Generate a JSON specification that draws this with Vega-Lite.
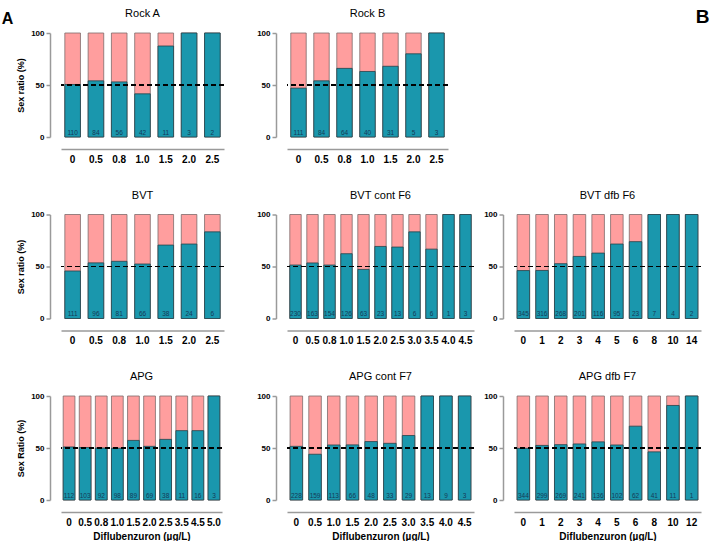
{
  "$schema": "https://vega.github.io/schema/vega-lite/v6.json",
  "background": "white",
  "padding": {"left": 1, "top": 8, "right": 4, "bottom": 0},
  "config": {
    "font": "Liberation Sans",
    "view": {"stroke": null},
    "title": {"fontSize": 11, "fontWeight": "normal", "offset": 10, "anchor": "middle", "color": "black"},
    "scale": {"bandPaddingInner": 0.33},
    "axisY": {"domainColor": "#9a9a9a", "domainWidth": 1.5, "tickColor": "#9a9a9a", "tickWidth": 1.5, "tickSize": 4, "labelFontSize": 8, "labelFontWeight": "bold", "labelColor": "black", "labelPadding": 2, "offset": 11, "values": [0, 25, 50, 75, 100], "grid": false, "titleFontSize": 9, "titleFontWeight": "bold", "titleColor": "black", "titlePadding": 5},
    "axisX": {"domainColor": "#9a9a9a", "domainWidth": 1.5, "ticks": false, "labelFontSize": 10, "labelFontWeight": "bold", "labelColor": "black", "labelAngle": 0, "labelPadding": 5, "offset": 12, "titleFontSize": 10, "titleFontWeight": "bold", "titleColor": "black", "titlePadding": 4}
  },
  "data": {"values": [
    {"p": "Rock A", "d": "0", "m": 50.5, "n": 110},
    {"p": "Rock A", "d": "0.5", "m": 54, "n": 84},
    {"p": "Rock A", "d": "0.8", "m": 53, "n": 56},
    {"p": "Rock A", "d": "1.0", "m": 41.5, "n": 42},
    {"p": "Rock A", "d": "1.5", "m": 87.5, "n": 11},
    {"p": "Rock A", "d": "2.0", "m": 100, "n": 3},
    {"p": "Rock A", "d": "2.5", "m": 100, "n": 2},
    {"p": "Rock B", "d": "0", "m": 47, "n": 111},
    {"p": "Rock B", "d": "0.5", "m": 54, "n": 84},
    {"p": "Rock B", "d": "0.8", "m": 66, "n": 64},
    {"p": "Rock B", "d": "1.0", "m": 63, "n": 40},
    {"p": "Rock B", "d": "1.5", "m": 68, "n": 31},
    {"p": "Rock B", "d": "2.0", "m": 80, "n": 5},
    {"p": "Rock B", "d": "2.5", "m": 100, "n": 3},
    {"p": "BVT", "d": "0", "m": 45.7, "n": 111},
    {"p": "BVT", "d": "0.5", "m": 53.5, "n": 96},
    {"p": "BVT", "d": "0.8", "m": 55, "n": 81},
    {"p": "BVT", "d": "1.0", "m": 52.4, "n": 66},
    {"p": "BVT", "d": "1.5", "m": 70.6, "n": 38},
    {"p": "BVT", "d": "2.0", "m": 71.6, "n": 24},
    {"p": "BVT", "d": "2.5", "m": 83.3, "n": 6},
    {"p": "BVT cont F6", "d": "0", "m": 51.4, "n": 230},
    {"p": "BVT cont F6", "d": "0.5", "m": 53.4, "n": 163},
    {"p": "BVT cont F6", "d": "0.8", "m": 51.4, "n": 154},
    {"p": "BVT cont F6", "d": "1.0", "m": 62.3, "n": 126},
    {"p": "BVT cont F6", "d": "1.5", "m": 47.2, "n": 63},
    {"p": "BVT cont F6", "d": "2.0", "m": 69.3, "n": 23},
    {"p": "BVT cont F6", "d": "2.5", "m": 68.7, "n": 13},
    {"p": "BVT cont F6", "d": "3.0", "m": 83.3, "n": 6},
    {"p": "BVT cont F6", "d": "3.5", "m": 66.7, "n": 6},
    {"p": "BVT cont F6", "d": "4.0", "m": 100, "n": 1},
    {"p": "BVT cont F6", "d": "4.5", "m": 100, "n": 3},
    {"p": "BVT dfb F6", "d": "0", "m": 46.1, "n": 345},
    {"p": "BVT dfb F6", "d": "1", "m": 46.2, "n": 316},
    {"p": "BVT dfb F6", "d": "2", "m": 52.7, "n": 268},
    {"p": "BVT dfb F6", "d": "3", "m": 59.7, "n": 201},
    {"p": "BVT dfb F6", "d": "4", "m": 62.9, "n": 116},
    {"p": "BVT dfb F6", "d": "5", "m": 71.6, "n": 95},
    {"p": "BVT dfb F6", "d": "6", "m": 73.9, "n": 23},
    {"p": "BVT dfb F6", "d": "8", "m": 100, "n": 7},
    {"p": "BVT dfb F6", "d": "10", "m": 100, "n": 4},
    {"p": "BVT dfb F6", "d": "14", "m": 100, "n": 2},
    {"p": "APG", "d": "0", "m": 51, "n": 112},
    {"p": "APG", "d": "0.5", "m": 50.5, "n": 103},
    {"p": "APG", "d": "0.8", "m": 50, "n": 92},
    {"p": "APG", "d": "1.0", "m": 49.8, "n": 98},
    {"p": "APG", "d": "1.5", "m": 57.3, "n": 89},
    {"p": "APG", "d": "2.0", "m": 51.6, "n": 69},
    {"p": "APG", "d": "2.5", "m": 58.3, "n": 38},
    {"p": "APG", "d": "3.5", "m": 66.7, "n": 11},
    {"p": "APG", "d": "4.5", "m": 66.7, "n": 16},
    {"p": "APG", "d": "5.0", "m": 100, "n": 3},
    {"p": "APG cont F7", "d": "0", "m": 51.6, "n": 228},
    {"p": "APG cont F7", "d": "0.5", "m": 44, "n": 159},
    {"p": "APG cont F7", "d": "1.0", "m": 52.9, "n": 113},
    {"p": "APG cont F7", "d": "1.5", "m": 53, "n": 66},
    {"p": "APG cont F7", "d": "2.0", "m": 56.2, "n": 48},
    {"p": "APG cont F7", "d": "2.5", "m": 54.5, "n": 33},
    {"p": "APG cont F7", "d": "3.0", "m": 62, "n": 29},
    {"p": "APG cont F7", "d": "3.5", "m": 100, "n": 13},
    {"p": "APG cont F7", "d": "4.0", "m": 100, "n": 9},
    {"p": "APG cont F7", "d": "4.5", "m": 100, "n": 3},
    {"p": "APG dfb F7", "d": "0", "m": 49.7, "n": 344},
    {"p": "APG dfb F7", "d": "1", "m": 52.5, "n": 299},
    {"p": "APG dfb F7", "d": "2", "m": 53.2, "n": 269},
    {"p": "APG dfb F7", "d": "3", "m": 53.9, "n": 241},
    {"p": "APG dfb F7", "d": "4", "m": 55.9, "n": 136},
    {"p": "APG dfb F7", "d": "5", "m": 52.9, "n": 102},
    {"p": "APG dfb F7", "d": "6", "m": 71, "n": 62},
    {"p": "APG dfb F7", "d": "8", "m": 46.3, "n": 41},
    {"p": "APG dfb F7", "d": "10", "m": 90.9, "n": 11},
    {"p": "APG dfb F7", "d": "12", "m": 100, "n": 1}
  ]},
  "spacing": 31,
  "hconcat": [
    {
      "title": {"text": "A", "anchor": "start", "offset": -32, "fontSize": 16, "fontWeight": "bold", "dx": -15, "baseline": "alphabetic"},
      "spacing": 25.5,
      "vconcat": [
        {
          "width": 163, "height": 104, "title": "Rock A",
          "transform": [{"filter": {"field": "p", "equal": "Rock A"}}],
          "layer": [
            {"mark": {"type": "bar", "fill": "#ff9e9e", "stroke": "#7d6b6b", "strokeWidth": 0.8}, "encoding": {"x": {"field": "d", "type": "ordinal", "sort": null, "title": null}, "y": {"datum": 100, "type": "quantitative", "scale": {"domain": [0, 100]}, "title": "Sex ratio (%)"}}},
            {"mark": {"type": "bar", "fill": "#1a97ad", "stroke": "#24434a", "strokeWidth": 0.8}, "encoding": {"x": {"field": "d", "type": "ordinal", "sort": null, "title": null}, "y": {"field": "m", "type": "quantitative", "title": "Sex ratio (%)"}}},
            {"mark": {"type": "rule", "color": "black", "strokeWidth": 1.1, "strokeDash": [5, 3]}, "encoding": {"y": {"datum": 50}}},
            {"mark": {"type": "text", "baseline": "bottom", "dy": -1.5, "fontSize": 6.5, "color": "#153a57"}, "encoding": {"x": {"field": "d", "type": "ordinal", "sort": null, "title": null}, "y": {"datum": 0}, "text": {"field": "n"}}}
          ]
        },
        {
          "width": 163, "height": 104, "title": "BVT",
          "transform": [{"filter": {"field": "p", "equal": "BVT"}}],
          "layer": [
            {"mark": {"type": "bar", "fill": "#ff9e9e", "stroke": "#7d6b6b", "strokeWidth": 0.8}, "encoding": {"x": {"field": "d", "type": "ordinal", "sort": null, "title": null}, "y": {"datum": 100, "type": "quantitative", "scale": {"domain": [0, 100]}, "title": "Sex ratio (%)"}}},
            {"mark": {"type": "bar", "fill": "#1a97ad", "stroke": "#24434a", "strokeWidth": 0.8}, "encoding": {"x": {"field": "d", "type": "ordinal", "sort": null, "title": null}, "y": {"field": "m", "type": "quantitative", "title": "Sex ratio (%)"}}},
            {"mark": {"type": "rule", "color": "black", "strokeWidth": 1.1, "strokeDash": [5, 3]}, "encoding": {"y": {"datum": 50}}},
            {"mark": {"type": "text", "baseline": "bottom", "dy": -1.5, "fontSize": 6.5, "color": "#153a57"}, "encoding": {"x": {"field": "d", "type": "ordinal", "sort": null, "title": null}, "y": {"datum": 0}, "text": {"field": "n"}}}
          ]
        },
        {
          "width": 161, "height": 104, "title": "APG",
          "transform": [{"filter": {"field": "p", "equal": "APG"}}],
          "layer": [
            {"mark": {"type": "bar", "fill": "#ff9e9e", "stroke": "#7d6b6b", "strokeWidth": 0.8}, "encoding": {"x": {"field": "d", "type": "ordinal", "sort": null, "scale": {"paddingInner": 0.27}, "title": "Diflubenzuron  (µg/L)"}, "y": {"datum": 100, "type": "quantitative", "scale": {"domain": [0, 100]}, "title": "Sex  Ratio  (%)"}}},
            {"mark": {"type": "bar", "fill": "#1a97ad", "stroke": "#24434a", "strokeWidth": 0.8}, "encoding": {"x": {"field": "d", "type": "ordinal", "sort": null, "title": "Diflubenzuron  (µg/L)"}, "y": {"field": "m", "type": "quantitative", "title": "Sex  Ratio  (%)"}}},
            {"mark": {"type": "rule", "color": "black", "strokeWidth": 1.1, "strokeDash": [5, 3]}, "encoding": {"y": {"datum": 50}}},
            {"mark": {"type": "text", "baseline": "bottom", "dy": -1.5, "fontSize": 6.5, "color": "#153a57"}, "encoding": {"x": {"field": "d", "type": "ordinal", "sort": null, "title": "Diflubenzuron  (µg/L)"}, "y": {"datum": 0}, "text": {"field": "n"}}}
          ]
        }
      ]
    },
    {
      "title": {"text": "B", "anchor": "end", "offset": -34, "fontSize": 19, "fontWeight": "bold", "dx": 8, "baseline": "alphabetic"},
      "spacing": 25.5,
      "vconcat": [
        {
          "width": 161, "height": 104, "title": "Rock B",
          "transform": [{"filter": {"field": "p", "equal": "Rock B"}}],
          "layer": [
            {"mark": {"type": "bar", "fill": "#ff9e9e", "stroke": "#7d6b6b", "strokeWidth": 0.8}, "encoding": {"x": {"field": "d", "type": "ordinal", "sort": null, "title": null}, "y": {"datum": 100, "type": "quantitative", "scale": {"domain": [0, 100]}, "title": null}}},
            {"mark": {"type": "bar", "fill": "#1a97ad", "stroke": "#24434a", "strokeWidth": 0.8}, "encoding": {"x": {"field": "d", "type": "ordinal", "sort": null, "title": null}, "y": {"field": "m", "type": "quantitative", "title": null}}},
            {"mark": {"type": "rule", "color": "black", "strokeWidth": 1.1, "strokeDash": [5, 3]}, "encoding": {"y": {"datum": 50}}},
            {"mark": {"type": "text", "baseline": "bottom", "dy": -1.5, "fontSize": 6.5, "color": "#153a57"}, "encoding": {"x": {"field": "d", "type": "ordinal", "sort": null, "title": null}, "y": {"datum": 0}, "text": {"field": "n"}}}
          ]
        },
        {
          "spacing": 8,
          "hconcat": [
            {
              "width": 187, "height": 104, "title": "BVT cont F6",
              "transform": [{"filter": {"field": "p", "equal": "BVT cont F6"}}],
              "layer": [
                {"mark": {"type": "bar", "fill": "#ff9e9e", "stroke": "#7d6b6b", "strokeWidth": 0.8}, "encoding": {"x": {"field": "d", "type": "ordinal", "sort": null, "title": null}, "y": {"datum": 100, "type": "quantitative", "scale": {"domain": [0, 100]}, "title": null}}},
                {"mark": {"type": "bar", "fill": "#1a97ad", "stroke": "#24434a", "strokeWidth": 0.8}, "encoding": {"x": {"field": "d", "type": "ordinal", "sort": null, "title": null}, "y": {"field": "m", "type": "quantitative", "title": null}}},
                {"mark": {"type": "rule", "color": "black", "strokeWidth": 1.1, "strokeDash": [5, 3]}, "encoding": {"y": {"datum": 50}}},
                {"mark": {"type": "text", "baseline": "bottom", "dy": -1.5, "fontSize": 6.5, "color": "#153a57"}, "encoding": {"x": {"field": "d", "type": "ordinal", "sort": null, "title": null}, "y": {"datum": 0}, "text": {"field": "n"}}}
              ]
            },
            {
              "width": 187, "height": 104, "title": "BVT dfb F6",
              "transform": [{"filter": {"field": "p", "equal": "BVT dfb F6"}}],
              "layer": [
                {"mark": {"type": "bar", "fill": "#ff9e9e", "stroke": "#7d6b6b", "strokeWidth": 0.8}, "encoding": {"x": {"field": "d", "type": "ordinal", "sort": null, "title": null}, "y": {"datum": 100, "type": "quantitative", "scale": {"domain": [0, 100]}, "title": null}}},
                {"mark": {"type": "bar", "fill": "#1a97ad", "stroke": "#24434a", "strokeWidth": 0.8}, "encoding": {"x": {"field": "d", "type": "ordinal", "sort": null, "title": null}, "y": {"field": "m", "type": "quantitative", "title": null}}},
                {"mark": {"type": "rule", "color": "black", "strokeWidth": 1.1, "strokeDash": [5, 3]}, "encoding": {"y": {"datum": 50}}},
                {"mark": {"type": "text", "baseline": "bottom", "dy": -1.5, "fontSize": 6.5, "color": "#153a57"}, "encoding": {"x": {"field": "d", "type": "ordinal", "sort": null, "title": null}, "y": {"datum": 0}, "text": {"field": "n"}}}
              ]
            }
          ]
        },
        {
          "spacing": 8,
          "hconcat": [
            {
              "width": 187, "height": 104, "title": "APG cont F7",
              "transform": [{"filter": {"field": "p", "equal": "APG cont F7"}}],
              "layer": [
                {"mark": {"type": "bar", "fill": "#ff9e9e", "stroke": "#7d6b6b", "strokeWidth": 0.8}, "encoding": {"x": {"field": "d", "type": "ordinal", "sort": null, "title": "Diflubenzuron  (µg/L)"}, "y": {"datum": 100, "type": "quantitative", "scale": {"domain": [0, 100]}, "title": null}}},
                {"mark": {"type": "bar", "fill": "#1a97ad", "stroke": "#24434a", "strokeWidth": 0.8}, "encoding": {"x": {"field": "d", "type": "ordinal", "sort": null, "title": "Diflubenzuron  (µg/L)"}, "y": {"field": "m", "type": "quantitative", "title": null}}},
                {"mark": {"type": "rule", "color": "black", "strokeWidth": 1.1, "strokeDash": [5, 3]}, "encoding": {"y": {"datum": 50}}},
                {"mark": {"type": "text", "baseline": "bottom", "dy": -1.5, "fontSize": 6.5, "color": "#153a57"}, "encoding": {"x": {"field": "d", "type": "ordinal", "sort": null, "title": "Diflubenzuron  (µg/L)"}, "y": {"datum": 0}, "text": {"field": "n"}}}
              ]
            },
            {
              "width": 187, "height": 104, "title": "APG dfb F7",
              "transform": [{"filter": {"field": "p", "equal": "APG dfb F7"}}],
              "layer": [
                {"mark": {"type": "bar", "fill": "#ff9e9e", "stroke": "#7d6b6b", "strokeWidth": 0.8}, "encoding": {"x": {"field": "d", "type": "ordinal", "sort": null, "title": "Diflubenzuron  (µg/L)"}, "y": {"datum": 100, "type": "quantitative", "scale": {"domain": [0, 100]}, "title": null}}},
                {"mark": {"type": "bar", "fill": "#1a97ad", "stroke": "#24434a", "strokeWidth": 0.8}, "encoding": {"x": {"field": "d", "type": "ordinal", "sort": null, "title": "Diflubenzuron  (µg/L)"}, "y": {"field": "m", "type": "quantitative", "title": null}}},
                {"mark": {"type": "rule", "color": "black", "strokeWidth": 1.1, "strokeDash": [5, 3]}, "encoding": {"y": {"datum": 50}}},
                {"mark": {"type": "text", "baseline": "bottom", "dy": -1.5, "fontSize": 6.5, "color": "#153a57"}, "encoding": {"x": {"field": "d", "type": "ordinal", "sort": null, "title": "Diflubenzuron  (µg/L)"}, "y": {"datum": 0}, "text": {"field": "n"}}}
              ]
            }
          ]
        }
      ]
    }
  ]
}
